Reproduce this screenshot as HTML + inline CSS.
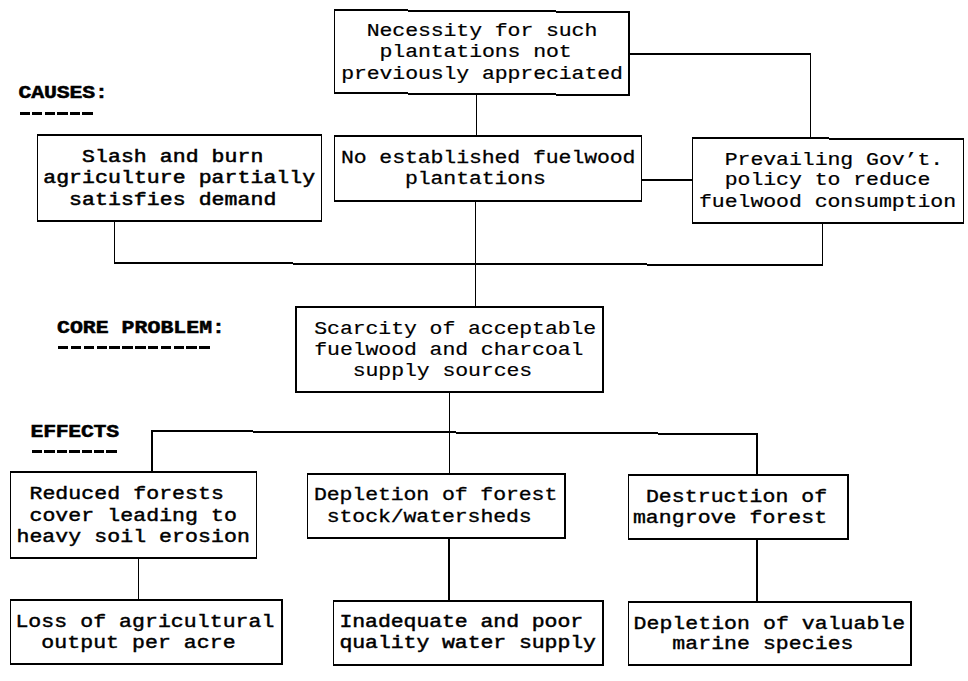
<!DOCTYPE html>
<html><head><meta charset="utf-8"><style>
html,body{margin:0;padding:0;background:#fff;}
body{width:968px;height:681px;position:relative;overflow:hidden;}
svg{position:absolute;left:0;top:0;}
.t,.l{position:absolute;font-family:"Liberation Mono",monospace;font-size:21.5px;line-height:21.5px;letter-spacing:0.050px;white-space:pre;color:#000;transform-origin:0 0;transform:scaleY(0.84);}
.t{font-weight:normal;-webkit-text-stroke:0.3px #000;}
.l{font-weight:bold;-webkit-text-stroke:0.6px #000;}
.d{position:absolute;height:3px;}
</style></head><body>

<svg width="968" height="681" viewBox="0 0 968 681" shape-rendering="crispEdges">
<polygon points="334.5,9 630,11 630,13 334.5,11" fill="#000"/>
<polygon points="334,92 630,94 630,96 334,94" fill="#000"/>
<polygon points="334.5,9 335.5,9 335,94 334,94" fill="#000"/>
<polygon points="628,11 630,11 630,96 628,96" fill="#000"/>
<polygon points="37,134 322,134 322,136 37,136" fill="#000"/>
<polygon points="37,220 322,220 322,222 37,222" fill="#000"/>
<polygon points="37,134 38,134 38,222 37,222" fill="#000"/>
<polygon points="321,134 322,134 322,222 321,222" fill="#000"/>
<polygon points="334,135 642,135 642,137 334,137" fill="#000"/>
<polygon points="334,200 642,200 642,202 334,202" fill="#000"/>
<polygon points="334,135 335,135 335,202 334,202" fill="#000"/>
<polygon points="641,135 642,135 642,202 641,202" fill="#000"/>
<polygon points="692,137 964,138 964,140 692,139" fill="#000"/>
<polygon points="692,222 964,222 964,224 692,224" fill="#000"/>
<polygon points="692,137 693,137 693,224 692,224" fill="#000"/>
<polygon points="963,138 964,138 964,224 963,224" fill="#000"/>
<polygon points="295,306 604,306 604,308 295,308" fill="#000"/>
<polygon points="295,391 604,391 604,393 295,393" fill="#000"/>
<polygon points="295,306 297,306 297,393 295,393" fill="#000"/>
<polygon points="602,306 604,306 604,393 602,393" fill="#000"/>
<polygon points="10,471 257,471 257,473 10,473" fill="#000"/>
<polygon points="10,557 257,557 257,559 10,559" fill="#000"/>
<polygon points="10,471 11,471 11,559 10,559" fill="#000"/>
<polygon points="256,471 257,471 257,559 256,559" fill="#000"/>
<polygon points="307,473 566,473 566,475 307,475" fill="#000"/>
<polygon points="307,537 566,537 566,539 307,539" fill="#000"/>
<polygon points="307,473 308,473 308,539 307,539" fill="#000"/>
<polygon points="564,473 566,473 566,539 564,539" fill="#000"/>
<polygon points="628,474 849,474 849,476 628,476" fill="#000"/>
<polygon points="628,538 849,538 849,540 628,540" fill="#000"/>
<polygon points="628,474 629,474 629,540 628,540" fill="#000"/>
<polygon points="847,474 849,474 849,540 847,540" fill="#000"/>
<polygon points="10,599 283,599 283,601 10,601" fill="#000"/>
<polygon points="10,663 283,663 283,665 10,665" fill="#000"/>
<polygon points="10,599 11,599 11,665 10,665" fill="#000"/>
<polygon points="281,599 283,599 283,665 281,665" fill="#000"/>
<polygon points="333,600 604,600 604,602 333,602" fill="#000"/>
<polygon points="333,664 604,664 604,666 333,666" fill="#000"/>
<polygon points="333,600 334,600 334,666 333,666" fill="#000"/>
<polygon points="602,600 604,600 604,666 602,666" fill="#000"/>
<polygon points="628,601 912,601 912,603 628,603" fill="#000"/>
<polygon points="628,664 912,664 912,666 628,666" fill="#000"/>
<polygon points="628,601 629,601 629,666 628,666" fill="#000"/>
<polygon points="910,601 912,601 912,666 910,666" fill="#000"/>
<polygon points="476,94 477,94 477,135 476,135" fill="#000"/>
<polygon points="630,53 811,53 811,55 630,55" fill="#000"/>
<polygon points="810,53 811,53 811,138 810,138" fill="#000"/>
<polygon points="642,179 692,179 692,181 642,181" fill="#000"/>
<polygon points="114,222 115,222 115,264 114,264" fill="#000"/>
<polygon points="114,262 823,264 823,266 114,264" fill="#000"/>
<polygon points="822,223 823,223 823,266 822,266" fill="#000"/>
<polygon points="475,202 476,202 476,306 475,306" fill="#000"/>
<polygon points="449,393 450,393 450,473 449,473" fill="#000"/>
<polygon points="151,430 758,433 758,435 151,432" fill="#000"/>
<polygon points="151,430 153,430 153,471 151,471" fill="#000"/>
<polygon points="756,433 758,433 758,474 756,474" fill="#000"/>
<polygon points="137.75,559 139.25,559 139.25,599 137.75,599" fill="#000"/>
<polygon points="448,539 450,539 450,600 448,600" fill="#000"/>
<polygon points="756.25,540 757.75,540 757.75,601 756.25,601" fill="#000"/>
</svg>
<div class="t" style="left:366.75px;top:22.76px;letter-spacing:-0.100px;-webkit-text-stroke-width:0.25px">Necessity for such</div>
<div class="t" style="left:379.55px;top:43.76px;letter-spacing:-0.100px;-webkit-text-stroke-width:0.25px">plantations not</div>
<div class="t" style="left:341.15px;top:65.56px;letter-spacing:-0.100px;-webkit-text-stroke-width:0.25px">previously appreciated</div>
<div class="t" style="left:82.07px;top:149.16px;letter-spacing:0.050px;-webkit-text-stroke-width:0.6px">Slash and burn</div>
<div class="t" style="left:43.23px;top:170.16px;letter-spacing:0.050px;-webkit-text-stroke-width:0.6px">agriculture partially</div>
<div class="t" style="left:69.12px;top:191.66px;letter-spacing:0.050px;-webkit-text-stroke-width:0.6px">satisfies demand</div>
<div class="t" style="left:340.95px;top:149.66px;letter-spacing:-0.100px;-webkit-text-stroke-width:0.3px">No established fuelwood</div>
<div class="t" style="left:404.95px;top:171.16px;letter-spacing:-0.100px;-webkit-text-stroke-width:0.3px">plantations</div>
<div class="t" style="left:724.68px;top:152.16px;letter-spacing:-0.050px;-webkit-text-stroke-width:0.25px">Prevailing Gov&#8217;t.</div>
<div class="t" style="left:724.68px;top:171.66px;letter-spacing:-0.050px;-webkit-text-stroke-width:0.25px">policy to reduce</div>
<div class="t" style="left:698.98px;top:194.16px;letter-spacing:-0.050px;-webkit-text-stroke-width:0.25px">fuelwood consumption</div>
<div class="t" style="left:314.31px;top:321.16px;letter-spacing:-0.090px;-webkit-text-stroke-width:0.2px">Scarcity of acceptable</div>
<div class="t" style="left:314.31px;top:342.46px;letter-spacing:-0.090px;-webkit-text-stroke-width:0.2px">fuelwood and charcoal</div>
<div class="t" style="left:352.74px;top:362.86px;letter-spacing:-0.090px;-webkit-text-stroke-width:0.2px">supply sources</div>
<div class="t" style="left:29.41px;top:486.16px;letter-spacing:0.070px;-webkit-text-stroke-width:0.5px">Reduced forests</div>
<div class="t" style="left:29.41px;top:507.66px;letter-spacing:0.070px;-webkit-text-stroke-width:0.5px">cover leading to</div>
<div class="t" style="left:16.43px;top:528.66px;letter-spacing:0.070px;-webkit-text-stroke-width:0.5px">heavy soil erosion</div>
<div class="t" style="left:313.95px;top:487.16px;letter-spacing:-0.100px;-webkit-text-stroke-width:0.35px">Depletion of forest</div>
<div class="t" style="left:326.75px;top:508.76px;letter-spacing:-0.100px;-webkit-text-stroke-width:0.35px">stock/watersheds</div>
<div class="t" style="left:645.88px;top:488.86px;letter-spacing:0.050px;-webkit-text-stroke-width:0.45px">Destruction of</div>
<div class="t" style="left:632.92px;top:510.36px;letter-spacing:0.050px;-webkit-text-stroke-width:0.45px">mangrove forest</div>
<div class="t" style="left:15.43px;top:613.66px;letter-spacing:0.050px;-webkit-text-stroke-width:0.5px">Loss of agricultural</div>
<div class="t" style="left:41.33px;top:635.16px;letter-spacing:0.050px;-webkit-text-stroke-width:0.5px">output per acre</div>
<div class="t" style="left:339.46px;top:614.16px;letter-spacing:-0.080px;-webkit-text-stroke-width:0.55px">Inadequate and poor</div>
<div class="t" style="left:339.46px;top:635.46px;letter-spacing:-0.080px;-webkit-text-stroke-width:0.55px">quality water supply</div>
<div class="t" style="left:633.52px;top:616.16px;letter-spacing:0.040px;-webkit-text-stroke-width:0.45px">Depletion of valuable</div>
<div class="t" style="left:672.34px;top:636.16px;letter-spacing:0.040px;-webkit-text-stroke-width:0.45px">marine species</div>
<div class="l" style="left:18.53px;top:85.16px;letter-spacing:-0.150px">CAUSES:</div>
<div class="l" style="left:57.01px;top:320.16px;letter-spacing:0.020px">CORE PROBLEM:</div>
<div class="l" style="left:30.55px;top:424.46px;letter-spacing:-0.300px">EFFECTS</div>
<div class="d" style="left:20px;top:112px;width:72.5px;background:repeating-linear-gradient(90deg,#000 0,#000 10px,transparent 10px,transparent 12.5px)"></div>
<div class="d" style="left:58.4px;top:346px;width:151.85px;background:repeating-linear-gradient(90deg,#000 0,#000 10.5px,transparent 10.5px,transparent 12.85px)"></div>
<div class="d" style="left:32px;top:450px;width:84.9px;background:repeating-linear-gradient(90deg,#000 0,#000 10.5px,transparent 10.5px,transparent 12.4px)"></div>
</body></html>
